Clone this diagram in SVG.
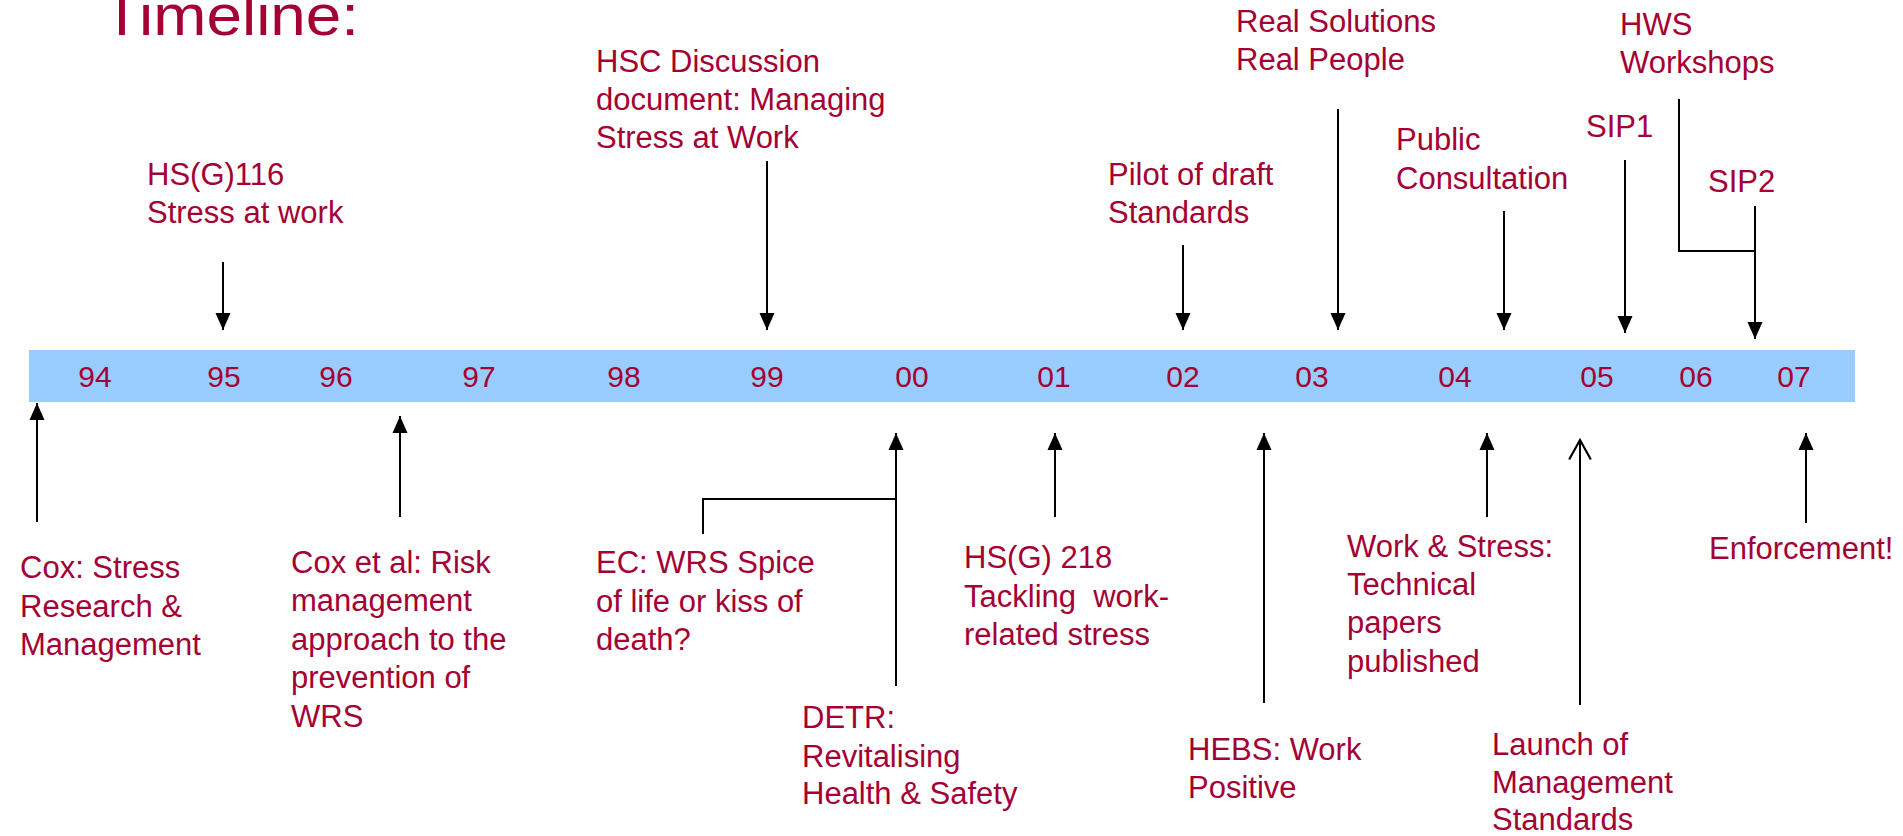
<svg xmlns="http://www.w3.org/2000/svg" width="1903" height="836" viewBox="0 0 1903 836">
  <style>
    .lbl { font-family: "Liberation Sans", Arial, sans-serif; font-size: 31px; fill: #A50034; }
    .yr { font-family: "Liberation Sans", Arial, sans-serif; font-size: 30px; fill: #A50034; text-anchor: middle; }
    .title { font-family: "Liberation Sans", Arial, sans-serif; font-size: 57px; fill: #A50034; }
    .ln { stroke: #000; stroke-width: 2; fill: none; }
    .arr { stroke: #000; stroke-width: 2; fill: none; marker-end: url(#head); }
    .open { stroke: #000; stroke-width: 2; fill: none; marker-end: url(#vhead); }
  </style>
  <defs>
    <marker id="head" markerUnits="userSpaceOnUse" markerWidth="20" markerHeight="20" viewBox="-18 -9 20 18" refX="0" refY="0" orient="auto">
      <path d="M0,0 L-17,-7.5 L-17,7.5 Z" fill="#000"/>
    </marker>
    <marker id="vhead" markerUnits="userSpaceOnUse" markerWidth="24" markerHeight="26" viewBox="-20 -12 22 24" refX="0" refY="0" orient="auto">
      <path d="M-18,-10 L0,0 L-18,10" fill="none" stroke="#000" stroke-width="2"/>
    </marker>
  </defs>

  <rect width="1903" height="836" fill="#fff"/>

  <!-- page heading, slightly widened -->
  <text class="title" transform="translate(102.5,35) scale(1.12,1)">Timeline:</text>

  <!-- year band -->
  <g id="band">
    <rect x="29" y="350" width="1826" height="52" fill="#99CCFF"/>
    <text class="yr" x="95" y="387">94</text>
    <text class="yr" x="224" y="387">95</text>
    <text class="yr" x="336" y="387">96</text>
    <text class="yr" x="479" y="387">97</text>
    <text class="yr" x="624" y="387">98</text>
    <text class="yr" x="767" y="387">99</text>
    <text class="yr" x="912" y="387">00</text>
    <text class="yr" x="1054" y="387">01</text>
    <text class="yr" x="1183" y="387">02</text>
    <text class="yr" x="1312" y="387">03</text>
    <text class="yr" x="1455" y="387">04</text>
    <text class="yr" x="1597" y="387">05</text>
    <text class="yr" x="1696" y="387">06</text>
    <text class="yr" x="1794" y="387">07</text>
  </g>

  <!-- events above the band -->
  <g id="hsg116">
    <text class="lbl" x="147" y="185">HS(G)116</text>
    <text class="lbl" x="147" y="223">Stress at work</text>
  </g>
  <g id="hsc-discussion">
    <text class="lbl" x="596" y="72">HSC Discussion</text>
    <text class="lbl" x="596" y="110">document: Managing</text>
    <text class="lbl" x="596" y="148">Stress at Work</text>
  </g>
  <g id="pilot">
    <text class="lbl" x="1108" y="185">Pilot of draft</text>
    <text class="lbl" x="1108" y="223">Standards</text>
  </g>
  <g id="real-solutions">
    <text class="lbl" x="1236" y="32">Real Solutions</text>
    <text class="lbl" x="1236" y="70">Real People</text>
  </g>
  <g id="public-consultation">
    <text class="lbl" x="1396" y="150">Public</text>
    <text class="lbl" x="1396" y="189">Consultation</text>
  </g>
  <g id="sip1">
    <text class="lbl" x="1586" y="137">SIP1</text>
  </g>
  <g id="hws">
    <text class="lbl" x="1620" y="35">HWS</text>
    <text class="lbl" x="1620" y="73">Workshops</text>
  </g>
  <g id="sip2">
    <text class="lbl" x="1708" y="192">SIP2</text>
  </g>

  <!-- events below the band -->
  <g id="cox">
    <text class="lbl" x="20" y="578">Cox: Stress</text>
    <text class="lbl" x="20" y="617">Research &amp;</text>
    <text class="lbl" x="20" y="655">Management</text>
  </g>
  <g id="cox-et-al">
    <text class="lbl" x="291" y="573">Cox et al: Risk</text>
    <text class="lbl" x="291" y="611">management</text>
    <text class="lbl" x="291" y="650">approach to the</text>
    <text class="lbl" x="291" y="688">prevention of</text>
    <text class="lbl" x="291" y="727">WRS</text>
  </g>
  <g id="ec-wrs">
    <text class="lbl" x="596" y="573">EC: WRS Spice</text>
    <text class="lbl" x="596" y="612">of life or kiss of</text>
    <text class="lbl" x="596" y="650">death?</text>
  </g>
  <g id="detr">
    <text class="lbl" x="802" y="728">DETR:</text>
    <text class="lbl" x="802" y="767">Revitalising</text>
    <text class="lbl" x="802" y="804">Health &amp; Safety</text>
  </g>
  <g id="hsg218">
    <text class="lbl" x="964" y="568">HS(G) 218</text>
    <text class="lbl" x="964" y="607" xml:space="preserve">Tackling  work-</text>
    <text class="lbl" x="964" y="645">related stress</text>
  </g>
  <g id="hebs">
    <text class="lbl" x="1188" y="760">HEBS: Work</text>
    <text class="lbl" x="1188" y="798">Positive</text>
  </g>
  <g id="work-stress">
    <text class="lbl" x="1347" y="557">Work &amp; Stress:</text>
    <text class="lbl" x="1347" y="595">Technical</text>
    <text class="lbl" x="1347" y="633">papers</text>
    <text class="lbl" x="1347" y="672">published</text>
  </g>
  <g id="launch">
    <text class="lbl" x="1492" y="755">Launch of</text>
    <text class="lbl" x="1492" y="793">Management</text>
    <text class="lbl" x="1492" y="830">Standards</text>
  </g>
  <g id="enforcement">
    <text class="lbl" x="1709" y="559">Enforcement!</text>
  </g>

  <!-- connectors -->
  <g id="connectors">
    <!-- downward, onto the band -->
    <line class="arr" x1="223" y1="262" x2="223" y2="330"/>
    <line class="arr" x1="767" y1="161" x2="767" y2="330"/>
    <line class="arr" x1="1183" y1="245" x2="1183" y2="330"/>
    <line class="arr" x1="1338" y1="109" x2="1338" y2="330"/>
    <line class="arr" x1="1504" y1="211" x2="1504" y2="330"/>
    <line class="arr" x1="1625" y1="160" x2="1625" y2="333" stroke-width="2.5"/>
    <polyline class="ln" points="1679,99 1679,251 1755,251"/>
    <line class="arr" x1="1755" y1="206" x2="1755" y2="339"/>

    <!-- upward, from the labels below -->
    <line class="arr" x1="37" y1="522" x2="37" y2="403"/>
    <line class="arr" x1="400" y1="517" x2="400" y2="416"/>
    <line class="arr" x1="896" y1="686" x2="896" y2="433"/>
    <polyline class="ln" points="703,534 703,499 896,499"/>
    <line class="arr" x1="1055" y1="517" x2="1055" y2="433"/>
    <line class="arr" x1="1264" y1="703" x2="1264" y2="433"/>
    <line class="arr" x1="1487" y1="517" x2="1487" y2="433"/>
    <line class="open" x1="1580" y1="705" x2="1580" y2="440"/>
    <line class="arr" x1="1806" y1="523" x2="1806" y2="433"/>
  </g>
</svg>
